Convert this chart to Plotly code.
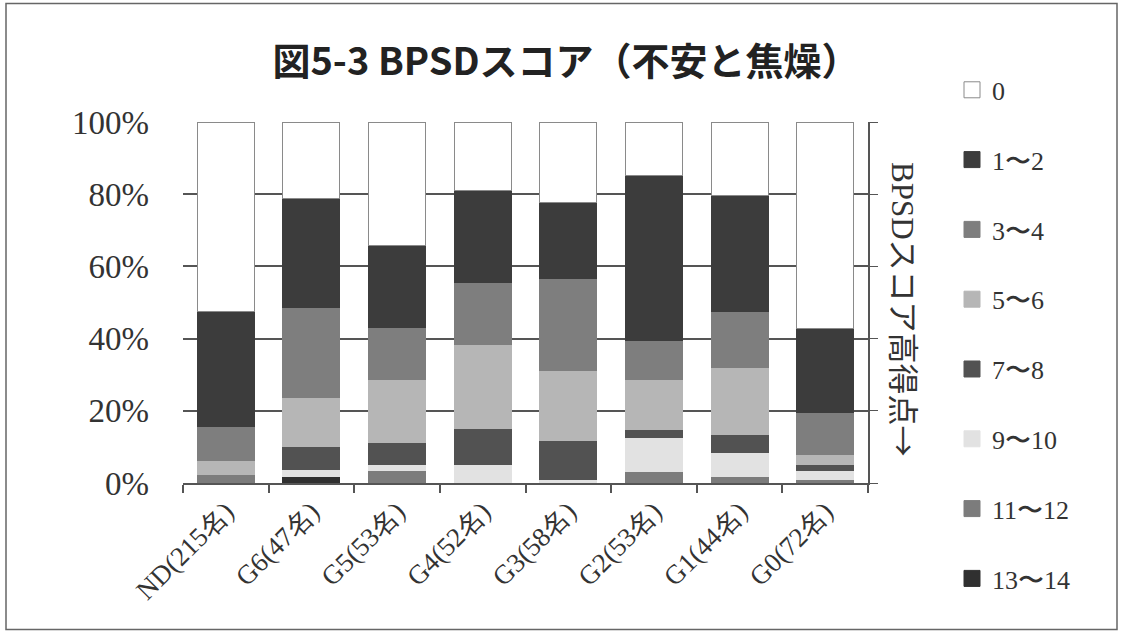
import plotly.graph_objects as go

# Groups (x axis)
categories = ["ND(215名)", "G6(47名)", "G5(53名)", "G4(52名)",
              "G3(58名)", "G2(53名)", "G1(44名)", "G0(72名)"]

# Share of each BPSD score band per group (%), stacked bottom to top
s13_14 = [0.0, 1.8, 0.0, 0.0, 0.0, 0.0, 0.0, 0.0]
s11_12 = [2.3, 0.0, 3.5, 0.0, 0.0, 3.2, 1.7, 1.1]
s9_10 = [0.0, 1.9, 1.6, 5.1, 1.1, 9.5, 6.8, 2.4]
s7_8 = [0.0, 6.4, 6.0, 10.1, 10.6, 2.0, 4.9, 1.6]
s5_6 = [3.9, 13.7, 17.7, 23.2, 19.4, 13.9, 18.6, 2.7]
s3_4 = [9.4, 24.8, 14.3, 17.2, 25.6, 11.0, 15.5, 11.6]
s1_2 = [32.0, 30.2, 22.8, 25.5, 20.9, 45.7, 32.2, 23.5]
s0 = [52.4, 21.2, 34.1, 18.9, 22.4, 14.7, 20.3, 57.1]

y_ticks = [0, 20, 40, 60, 80, 100]
y_tick_text = ["0%", "20%", "40%", "60%", "80%", "100%"]

series = [
    ("13〜14", s13_14, "#303030"),
    ("11〜12", s11_12, "#7c7c7c"),
    ("9〜10", s9_10, "#e2e2e2"),
    ("7〜8", s7_8, "#525252"),
    ("5〜6", s5_6, "#b6b6b6"),
    ("3〜4", s3_4, "#7e7e7e"),
    ("1〜2", s1_2, "#3c3c3c"),
    ("0", s0, "#ffffff"),
]

serif = "Liberation Serif, DejaVu Serif, serif"
cjk = "Noto Sans CJK JP, sans-serif"


def edge(name, color):
    return "#8a8a8a" if name == "0" else color


fig = go.Figure()
for name, vals, color in series:
    fig.add_trace(go.Bar(
        x=categories, y=vals, name=name, showlegend=False,
        marker=dict(color=color, line=dict(color=edge(name, color), width=1)),
    ))

# Legend entries, listed from the top band down to the bottom band
for i, (name, vals, color) in enumerate(reversed(series)):
    fig.add_trace(go.Scatter(
        x=[None], y=[None], mode="markers", name=name, legendgroup=f"k{i}",
        marker=dict(symbol="square", size=18, color=color,
                    line=dict(color=edge(name, color), width=1)),
        hoverinfo="skip",
    ))

# Right-hand axis frame (tick marks only)
fig.add_trace(go.Scatter(x=categories[:1], y=[0], yaxis="y2", mode="markers",
                         marker=dict(opacity=0), showlegend=False, hoverinfo="skip"))

W, H = 1121, 632
L, R, T, B = 183, 868, 121.7, 483.3


def px_x(p):
    return (p - L) / (R - L)


def px_y(p):
    return (B - p) / (B - T)


fig.update_layout(
    width=W, height=H,
    margin=dict(l=L, r=W - R, t=T, b=H - B),
    paper_bgcolor="white", plot_bgcolor="white",
    barmode="stack", bargap=0.335,
    title=dict(text="<b>図5-3 BPSDスコア（不安と焦燥）</b>",
               x=566 / W, xanchor="center", y=1 - 62 / H, yanchor="middle",
               font=dict(family=cjk, size=38, color="#222222")),
    xaxis=dict(
        type="category", tickson="boundaries",
        ticks="outside", ticklen=8, tickcolor="#555555", tickwidth=1.5,
        showline=True, linecolor="#555555", linewidth=1.5,
        tickangle=-45, tickfont=dict(family=serif, size=27, color="#333333"),
        showgrid=False,
    ),
    yaxis=dict(
        range=[0, 100], tickmode="array", tickvals=y_ticks, ticktext=y_tick_text,
        tickfont=dict(family=serif, size=33, color="#333333"),
        ticks="", ticklabelstandoff=33,
        showgrid=True, gridcolor="#555555", gridwidth=1.5,
        showline=False, zeroline=False,
    ),
    yaxis2=dict(
        range=[0, 100], overlaying="y", side="right", tickvals=y_ticks,
        showticklabels=False, ticks="outside", ticklen=8, tickcolor="#555555",
        showline=True, linecolor="#555555", linewidth=1.5,
        showgrid=False, zeroline=False,
    ),
    legend=dict(
        x=px_x(952), y=px_y(66), xanchor="left", yanchor="top",
        traceorder="grouped", tracegroupgap=33, maxheight=620,
        font=dict(family=serif, size=26, color="#333333"),
        bgcolor="rgba(0,0,0,0)", itemwidth=30,
    ),
    showlegend=True,
)

fig.add_annotation(
    text='BPSDスコア高得点<span style="font-family:Noto Sans CJK JP">→</span>',
    textangle=90,
    xref="paper", yref="paper", x=px_x(905), y=px_y(310),
    xanchor="center", yanchor="middle", showarrow=False,
    font=dict(family="Liberation Serif, Noto Sans CJK JP, serif", size=31, color="#333333"),
)

# Outer chart frame
fig.add_shape(type="rect", xref="paper", yref="paper",
              x0=px_x(6), x1=px_x(1117), y0=px_y(630), y1=px_y(3),
              line=dict(color="#666666", width=1.5), layer="below")

fig.write_html("out.html")
